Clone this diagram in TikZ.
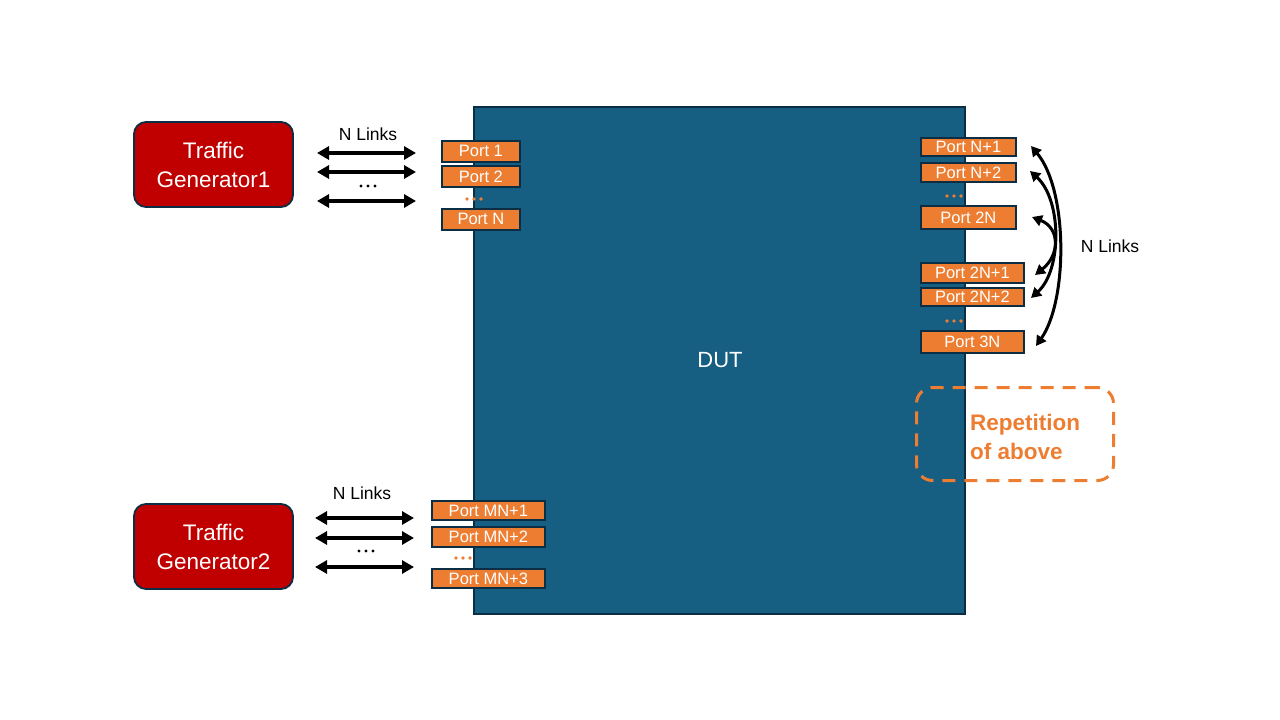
\documentclass[tikz,border=0pt]{standalone}
\usepackage{fontspec}
\setmainfont{Liberation Sans}
\usetikzlibrary{arrows.meta}
\definecolor{dutblue}{RGB}{22,94,130}
\definecolor{edge}{RGB}{12,46,68}
\definecolor{genred}{RGB}{192,0,0}
\definecolor{portor}{RGB}{237,125,49}
\begin{document}
\begin{tikzpicture}[x=1pt,y=-1pt,
  portbox/.style={draw=edge,line width=1.8pt,fill=portor,text=white,font=\fontsize{16.5}{18}\selectfont,inner sep=0pt,anchor=north west},
  genbox/.style={draw=edge,line width=1.8pt,fill=genred,text=white,rounded corners=12pt,font=\fontsize{22.5}{29}\selectfont,align=center,inner sep=0pt},
  link/.style={line width=3.5pt,{Triangle[length=12pt,width=13pt]}-{Triangle[length=12pt,width=13pt]}},
  curvelink/.style={line width=3pt,{Triangle[length=10pt,width=11pt]}-{Triangle[length=10pt,width=11pt]}},
  dotfill/.style={fill=portor},
  bdotfill/.style={fill=black},
  lbl/.style={font=\fontsize{17.5}{20}\selectfont,inner sep=0pt}]
\useasboundingbox (0,0) rectangle (1280,720);
% DUT
\node[draw=edge,line width=1.5pt,fill=dutblue,minimum width=491pt,minimum height=507pt,anchor=north west,inner sep=0pt] (dut) at (473,106) {};
\node[text=white,font=\fontsize{22}{26}\selectfont] (dutl) at (720,360) {DUT};
% generators
\node[genbox,minimum width=159pt,minimum height=85pt] (g1) at (213.5,164.5) {Traffic\\Generator1};
\node[genbox,minimum width=159pt,minimum height=85pt] (g2) at (213.5,546.5) {Traffic\\Generator2};
% left ports top
\node[portbox,minimum width=78pt,minimum height=21pt] (p1) at (441,140) {Port 1};
\node[portbox,minimum width=78pt,minimum height=21pt] (p2) at (441,165) {Port 2};
\node[portbox,minimum width=78pt,minimum height=21pt] (pn) at (441,208) {Port N};
\foreach \dx in {-7,0,7} \fill[dotfill] (474+\dx,199) circle (1.8pt);
% left arrows top
\coordinate (a1l) at (317,153); \coordinate (a1r) at (416,153);
\coordinate (a2l) at (317,172); \coordinate (a2r) at (416,172);
\coordinate (a3l) at (317,201); \coordinate (a3r) at (416,201);
\draw[link] (a1l) -- (a1r);
\draw[link] (a2l) -- (a2r);
\draw[link] (a3l) -- (a3r);
\foreach \dx in {-7,0,7} \fill[bdotfill] (368+\dx,186) circle (1.6pt);
\node[lbl] (nl1) at (368,134) {N Links};
% bottom
\node[portbox,minimum width=113pt,minimum height=19pt] (q1) at (431,500) {Port MN+1};
\node[portbox,minimum width=113pt,minimum height=20pt] (q2) at (431,526) {Port MN+2};
\node[portbox,minimum width=113pt,minimum height=19pt] (q3) at (431,568) {Port MN+3};
\foreach \dx in {-7,0,7} \fill[dotfill] (463+\dx,558) circle (1.8pt);
\coordinate (b1l) at (315,518); \coordinate (b1r) at (414,518);
\coordinate (b2l) at (315,538); \coordinate (b2r) at (414,538);
\coordinate (b3l) at (315,567); \coordinate (b3r) at (414,567);
\draw[link] (b1l) -- (b1r);
\draw[link] (b2l) -- (b2r);
\draw[link] (b3l) -- (b3r);
\foreach \dx in {-7,0,7} \fill[bdotfill] (366+\dx,551) circle (1.6pt);
\node[lbl] (nl2) at (362,493) {N Links};
% right ports
\node[portbox,minimum width=95pt,minimum height=18pt] (r1) at (920,137) {Port N+1};
\node[portbox,minimum width=95pt,minimum height=19pt] (r2) at (920,162) {Port N+2};
\node[portbox,minimum width=95pt,minimum height=23pt] (r3) at (920,205) {Port 2N};
\node[portbox,minimum width=103pt,minimum height=20pt] (r4) at (920,262) {Port 2N+1};
\node[portbox,minimum width=103pt,minimum height=18pt] (r5) at (920,287) {Port 2N+2};
\node[portbox,minimum width=103pt,minimum height=22pt] (r6) at (920,330) {Port 3N};
\foreach \dx in {-7,0,7} \fill[dotfill] (954+\dx,196) circle (1.8pt);
\foreach \dx in {-7,0,7} \fill[dotfill] (954+\dx,321) circle (1.8pt);
% curved links
\coordinate (c1a) at (1031,146); \coordinate (c1b) at (1036,346);
\coordinate (c2a) at (1030,171); \coordinate (c2b) at (1031,298);
\coordinate (c3a) at (1032,217); \coordinate (c3b) at (1035,275);
\draw[curvelink] (c1a) .. controls (1068,190) and (1068,300) .. (c1b);
\draw[curvelink] (c2a) .. controls (1062,200) and (1062,270) .. (c2b);
\draw[curvelink] (c3a) .. controls (1060,228) and (1060,255) .. (c3b);
\node[lbl] (nl3) at (1110,246) {N Links};
% repetition
\node[draw=portor,line width=3pt,dash pattern=on 13pt off 9pt,rounded corners=16pt,minimum width=197pt,minimum height=93pt,anchor=north west,inner sep=0pt] (rep) at (915,386) {};
\node[text=portor,font=\bfseries\fontsize{22.5}{29}\selectfont,align=left,anchor=west,inner sep=0pt] (repl) at (970,436.5) {Repetition\\of above};
\end{tikzpicture}
\end{document}
